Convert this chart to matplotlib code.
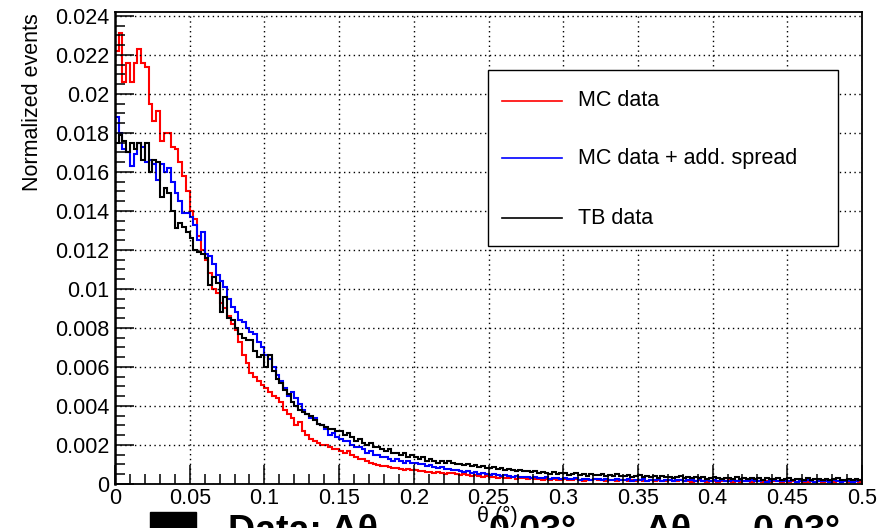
import numpy as np
import matplotlib
matplotlib.use("Agg")
import matplotlib.pyplot as plt
from matplotlib.lines import Line2D
from matplotlib.patches import Rectangle

plt.rcParams['font.family'] = ['Liberation Sans', 'DejaVu Sans']

# ---------------- data (values in units of 1e-4) ----------------
theta_min, theta_max, n_bins = 0.0, 0.5, 200
unit = 1e-4

mc_data = [
    222, 231, 206, 216, 206, 216, 223, 216, 214, 195,
    186, 191, 176, 180, 180, 173, 172, 165, 158, 150,
    140, 136, 127, 120, 115, 108, 100, 98, 93, 90,
    86, 82, 79, 73, 66, 62, 57, 55, 53, 51,
    49, 47, 45, 44, 42, 38, 36, 34, 30, 32,
    27, 25, 23, 22, 21, 20, 20, 19, 18, 18,
    17, 16, 17, 15, 14, 13, 13, 12, 11, 10,
    9.5, 9, 9, 8.5, 8, 8, 7.5, 7, 7.5, 7,
    7, 6.5, 6.5, 6, 6, 5.5, 6, 5.5, 5, 5.5,
    5.5, 5, 4.5, 5, 4.5, 4, 4.5, 4, 3.5, 4,
    3.5, 3.5, 3, 3.5, 3, 3, 3.5, 2.5, 3, 3,
    2.5, 3, 2.5, 2.5, 2, 2.5, 2, 2.5, 2, 2,
    2.5, 2, 2, 2.5, 2, 1.5, 2, 2, 2.5, 2,
    2, 1.5, 2, 2, 1.5, 2, 2, 1.5, 2, 1.5,
    2, 1.5, 1.5, 2, 1.5, 2, 1.5, 1.5, 2, 1.5,
    1.5, 2, 1.5, 1.5, 1, 1.5, 2, 1.5, 1, 1.5,
    1.5, 1, 1.5, 1.5, 2, 1, 1.5, 1, 1.5, 1.5,
    1, 1.5, 1.5, 1, 1.5, 1, 1.5, 1.5, 1, 1.5,
    1, 1.5, 1, 1.5, 1, 1, 1.5, 1, 1.5, 1,
    1.5, 1, 1, 1.5, 1, 1.5, 1, 1, 1.5, 1,
]

mc_spread = [
    188, 180, 172, 170, 163, 169, 175, 173, 165, 166,
    164, 156, 164, 160, 162, 155, 149, 145, 139, 139,
    137, 133, 125, 129, 118, 117, 113, 107, 104, 101,
    95, 91, 88, 84, 83, 80, 78, 77, 73, 70,
    66, 64, 60, 56, 53, 49, 45, 47, 44, 41,
    38, 36, 34, 34, 31, 30, 28, 25, 26, 24,
    23, 22, 22, 20, 19, 19, 18, 16, 17, 15,
    15, 14, 14, 13, 12, 13, 12, 11, 12, 11,
    11, 10, 10, 9, 9.5, 8.5, 8, 8.5, 7.5, 7.5,
    7, 7, 6.5, 6, 6.5, 5.5, 6, 5, 5.5, 5,
    4.5, 5, 4.5, 4, 4.5, 4, 3.5, 4, 3.5, 3.5,
    3.5, 3, 3.5, 3, 3, 3.5, 2.5, 3, 3, 2.5,
    3, 2.5, 2.5, 3, 2, 2.5, 2.5, 2, 2.5, 2.5,
    2, 2.5, 2, 2, 2.5, 2, 2, 2.5, 1.5, 2,
    2, 2.5, 1.5, 2, 2, 2.5, 1.5, 2, 2, 1.5,
    2, 2, 1.5, 2, 2, 1.5, 2.5, 1.5, 2, 1.5,
    2, 1.5, 2, 1.5, 1.5, 2, 1.5, 2, 1.5, 1.5,
    2, 1.5, 1.5, 2, 1, 1.5, 2, 1.5, 1.5, 1.5,
    1.5, 2, 1, 1.5, 1.5, 2, 1.5, 1, 1.5, 1.5,
    1.5, 1, 2, 1.5, 1, 1.5, 1.5, 1, 1.5, 2,
]

tb_data = [
    175, 179, 176, 170, 175, 172, 175, 166, 175, 160,
    166, 165, 147, 152, 149, 140, 131, 134, 132, 129,
    126, 120, 119, 118, 116, 102, 106, 103, 88, 96,
    85, 84, 80, 77, 75, 74, 74, 68, 65, 66,
    60, 66, 58, 54, 52, 48, 46, 42, 40, 38,
    37, 36, 35, 33, 31, 30, 29, 28, 28, 27,
    27, 25, 26, 24, 22, 23, 21, 20, 21, 19,
    19, 18, 17, 18, 16, 16, 15, 16, 14, 15,
    14, 13, 14, 12, 13, 12, 11, 12, 11, 12,
    11, 10, 10.5, 9.5, 10, 9, 9.5, 8.5, 9, 8,
    8, 8.5, 7.5, 8, 7, 7.5, 7, 6.5, 7, 6.5,
    6.5, 6, 6.5, 5.5, 6, 5.5, 5, 6, 5, 5.5,
    5.5, 4.5, 5, 5.5, 4.5, 5, 4, 5, 4.5, 4.5,
    5, 4, 4.5, 4, 5, 4, 4, 4.5, 3.5, 4,
    4.5, 3.5, 4, 3.5, 4, 3, 4, 3.5, 3.5, 3,
    3.5, 4, 3, 3.5, 3, 3.5, 3, 3.5, 2.5, 3,
    3.5, 3, 2.5, 3, 3, 2.5, 3.5, 2.5, 3, 2.5,
    3, 2.5, 3, 2, 3, 2.5, 2.5, 3, 2, 2.5,
    3, 2, 2.5, 2.5, 2, 3, 2, 2.5, 2.5, 2,
    2.5, 2, 2.5, 3, 2, 2, 2.5, 2, 2.5, 2,
]

series_labels = ["MC data", "MC data + add. spread", "TB data"]
series_colors = ["#ff0000", "#0000ff", "#000000"]

x_ticks = [0, 0.05, 0.1, 0.15, 0.2, 0.25, 0.3, 0.35, 0.4, 0.45, 0.5]
x_tick_labels = ["0", "0.05", "0.1", "0.15", "0.2", "0.25", "0.3", "0.35", "0.4", "0.45", "0.5"]
y_ticks = [0, 0.002, 0.004, 0.006, 0.008, 0.01, 0.012, 0.014, 0.016, 0.018, 0.02, 0.022, 0.024]
y_tick_labels = ["0", "0.002", "0.004", "0.006", "0.008", "0.01", "0.012", "0.014",
                 "0.016", "0.018", "0.02", "0.022", "0.024"]

# ---------------- figure ----------------
W, H = 888, 528
fig = plt.figure(figsize=(W / 100, H / 100), dpi=100)
fig.patch.set_facecolor("white")

def fx(px):
    return px / W

def fy(py):
    return 1 - py / H

L, R, T, B = 115, 862, 12, 484
ax = fig.add_axes([fx(L), fy(B), (R - L) / W, (B - T) / H])

edges = np.linspace(theta_min, theta_max, n_bins + 1)
for vals, col in zip([mc_data, mc_spread, tb_data], series_colors):
    ax.stairs(np.asarray(vals) * unit, edges, color=col, lw=1.5, baseline=0)

ax.set_xlim(0, 0.5)
ax.set_ylim(0, 0.0242)
ax.set_xticks(x_ticks)
ax.set_xticklabels(x_tick_labels)
ax.set_yticks(y_ticks)
ax.set_yticklabels(y_tick_labels)
ax.set_xticks(np.arange(0, 0.5001, 0.01), minor=True)
ax.set_yticks(np.arange(0, 0.02421, 0.0005), minor=True)
ax.tick_params(which="major", direction="in", length=14, width=1.1,
               top=False, right=False, labelsize=15.5, colors="black")
ax.tick_params(axis="y", which="major", pad=4)
ax.tick_params(axis="x", which="major", pad=3)
ax.tick_params(which="minor", direction="in", length=7, width=1.1, top=False, right=False)
ax.grid(True, which="major", linestyle=(0, (1, 2.5)), color="black", lw=1.0)
for s in ax.spines.values():
    s.set_linewidth(1.3)
    s.set_color("black")
ax.spines["left"].set_linewidth(1.8)

# y axis title
fig.text(fx(33), fy(13), "Normalized events", rotation=90, ha="center", va="top", fontsize=15.5)

# x axis title
fig.text(fx(497), fy(506), "θ (°)", ha="center", va="top", fontsize=15.5)

# ---------------- legend ----------------
lx0, ly0, lx1, ly1 = 488, 70, 838, 246
fig.patches.append(Rectangle((fx(lx0), fy(ly1)), (lx1 - lx0) / W, (ly1 - ly0) / H,
                             transform=fig.transFigure, facecolor="white",
                             edgecolor="black", lw=1.0, zorder=5))
entry_y = [101, 158, 218]
for lab, col, ey in zip(series_labels, series_colors, entry_y):
    fig.lines.append(Line2D([fx(502), fx(562)], [fy(ey), fy(ey)], color=col, lw=1.2,
                            transform=fig.transFigure, zorder=6))
    fig.text(fx(578), fy(ey), lab, ha="left", va="center", fontsize=15.5, zorder=6)

# ---------------- clipped second legend at the bottom ----------------
fig.patches.append(Rectangle((fx(150), fy(560)), 46 / W, 48 / H,
                             transform=fig.transFigure, facecolor="black",
                             edgecolor="black", zorder=5))
fs_big = 27
fig.text(fx(228), fy(514), "Data: Δθ", ha="left", va="top", fontsize=fs_big, fontweight="bold")
fig.text(fx(388), fy(530), "x  =", ha="left", va="top", fontsize=fs_big, fontweight="bold")
fig.text(fx(488), fy(514), "0.03°,", ha="left", va="top", fontsize=fs_big, fontweight="bold")
fig.text(fx(645), fy(514), "Δθ", ha="left", va="top", fontsize=fs_big, fontweight="bold")
fig.text(fx(695), fy(530), "y  =", ha="left", va="top", fontsize=fs_big, fontweight="bold")
fig.text(fx(752), fy(514), "0.03°", ha="left", va="top", fontsize=fs_big, fontweight="bold")

fig.savefig("out.png", dpi=100)
